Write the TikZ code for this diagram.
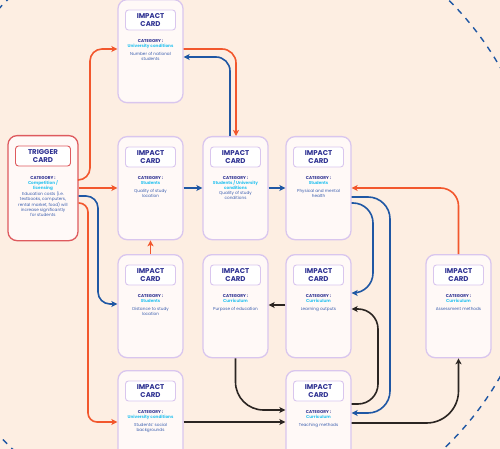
\documentclass[tikz,border=0pt]{standalone}
\usepackage{fontspec}
\setmainfont{Poppins}
\usetikzlibrary{arrows.meta}
\definecolor{bgc}{HTML}{FDEEE2}
\definecolor{cardfill}{HTML}{FFF9F7}
\definecolor{lav}{HTML}{D9C6EE}
\definecolor{trigred}{HTML}{DE5A5E}
\definecolor{navy}{HTML}{2E3192}
\definecolor{catc}{HTML}{2CC3F0}
\definecolor{descc}{HTML}{3A5DAE}
\definecolor{orangec}{HTML}{F2572D}
\definecolor{bluec}{HTML}{1F57A4}
\definecolor{blackc}{HTML}{2B2522}
\newcommand\catl[1]{\textcolor{catc}{\textbf{#1}}}
\tikzset{
  card/.style={draw=lav, line width=1.3pt, fill=cardfill, rounded corners=9pt, minimum width=65pt, minimum height=103pt, inner sep=0pt},
  trigcard/.style={card, draw=trigred, minimum width=70pt, minimum height=105pt},
  hdr/.style={draw=lav, line width=0.9pt, fill=white, rounded corners=3pt, minimum width=50pt, minimum height=20pt, inner sep=1pt, align=center, text=navy, font=\fontsize{7}{8.2}\selectfont\bfseries},
  trighdr/.style={hdr, draw=trigred, minimum width=55pt},
  body/.style={align=center, inner sep=0pt, text=descc, font=\fontsize{4.2}{5}\selectfont},
  conn/.style={line width=1.6pt, rounded corners=14pt, -{Stealth[length=6pt,width=6pt,inset=1.5pt]}},
  oarr/.style={conn, draw=orangec},
  barr/.style={conn, draw=bluec},
  karr/.style={conn, draw=blackc},
}
\newcommand\mkcard[5]{%
  \node[card, anchor=north] (#1) at (#2,#3) {};
  \node[hdr] (#1h) at ([yshift=-21pt]#1.north) {IMPACT\\CARD};
  \node[body, anchor=north] (#1t) at ([yshift=-40pt]#1.north) {\textcolor{navy}{\textbf{CATEGORY :}}\\ #4\\[3pt] #5};
}
\begin{document}
\begin{tikzpicture}[x=1pt,y=-1pt]
\useasboundingbox (0,0) rectangle (500,449);
\clip (0,0) rectangle (500,449);
\fill[bgc] (0,0) rectangle (500,449);
\draw[bluec, line width=1.4pt, dash pattern=on 6pt off 6pt] (228,222) circle[radius=313pt];

% trigger card
\node[trigcard, anchor=north] (trig) at (43,135) {};
\node[trighdr] (trigh) at ([yshift=-21pt]trig.north) {TRIGGER\\CARD};
\node[body, anchor=north] (trigt) at ([yshift=-41pt]trig.north) {\textcolor{navy}{\textbf{CATEGORY :}}\\ \catl{Competition /}\\ \catl{licensing}\\ Education costs (i.e.\\ textbooks, computers,\\ rental market, food) will\\ increase significantly\\ for students};

% impact cards
\mkcard{top}{150.5}{-1}{\catl{University conditions}}{Number of national\\ students}
\mkcard{A}{150.5}{136}{\catl{Students}}{Quality of study\\ location}
\node[card, anchor=north] (B) at (235.5,136) {};
\node[hdr] (Bh) at ([yshift=-21pt]B.north) {IMPACT\\CARD};
\node[body, anchor=north] (Bt) at ([yshift=-40pt]B.north) {\textcolor{navy}{\textbf{CATEGORY :}}\\ \catl{Students / University}\\ \catl{conditions}\\ Quality of study\\ conditions};
\mkcard{C}{318.5}{136}{\catl{Students}}{Physical and mental\\ health}
\mkcard{D}{150.5}{254}{\catl{Students}}{Distance to study\\ location}
\mkcard{E}{235.5}{254}{\catl{Curriculum}}{Purpose of education}
\mkcard{F}{318.5}{254}{\catl{Curriculum}}{Learning outputs}
\mkcard{G}{458.5}{254}{\catl{Curriculum}}{Assessment methods}
\mkcard{H}{150.5}{370}{\catl{University conditions}}{Students' social\\ backgrounds}
\mkcard{I}{318.5}{370}{\catl{Curriculum}}{Teaching methods}

% orange connectors
\draw[oarr, rounded corners=12pt] (trig.east |- 0,180) -- (90,180) -- (90,49) -- (top.west |- 0,49);
\draw[oarr] (trig.east |- 0,188) -- (A.west |- 0,188);
\draw[oarr, rounded corners=9pt] (trig.east |- 0,203) -- (88,203) -- (88,422) -- (H.west |- 0,422);
\draw[oarr] (D.north) -- (A.south);
\draw[oarr] (top.east |- 0,49) -- (236,49) -- (B.north -| 236,0);
\draw[oarr, rounded corners=18pt] (G.north) -- (458.5,188) -- (C.east |- 0,188);

% blue connectors
\draw[barr, rounded corners=12pt] (trig.east |- 0,196) -- (98,196) -- (98,304) -- (D.west |- 0,304);
\draw[barr] (A.east |- 0,188) -- (B.west |- 0,188);
\draw[barr] (B.east |- 0,188) -- (C.west |- 0,188);
\draw[barr] (B.north -| 230,0) -- (230,57) -- (top.east |- 0,57);
\draw[barr, rounded corners=22pt] (C.east |- 0,197) -- (390,197) -- (390,413) -- (I.east |- 0,413);
\draw[barr, rounded corners=20pt] (C.east |- 0,203) -- (373,203) -- (373,293) -- (F.east |- 0,293);

% black connectors
\draw[karr] (F.west |- 0,305) -- (E.east |- 0,305);
\draw[karr, rounded corners=28pt] (E.south) -- (235.5,410) -- (I.west |- 0,410);
\draw[karr] (H.east |- 0,422) -- (I.west |- 0,422);
\draw[karr, rounded corners=20pt] (I.east |- 0,404) -- (378,404) -- (378,309) -- (F.east |- 0,309);
\draw[karr, rounded corners=32pt] (I.east |- 0,423) -- (458.5,423) -- (G.south);
\end{tikzpicture}
\end{document}
